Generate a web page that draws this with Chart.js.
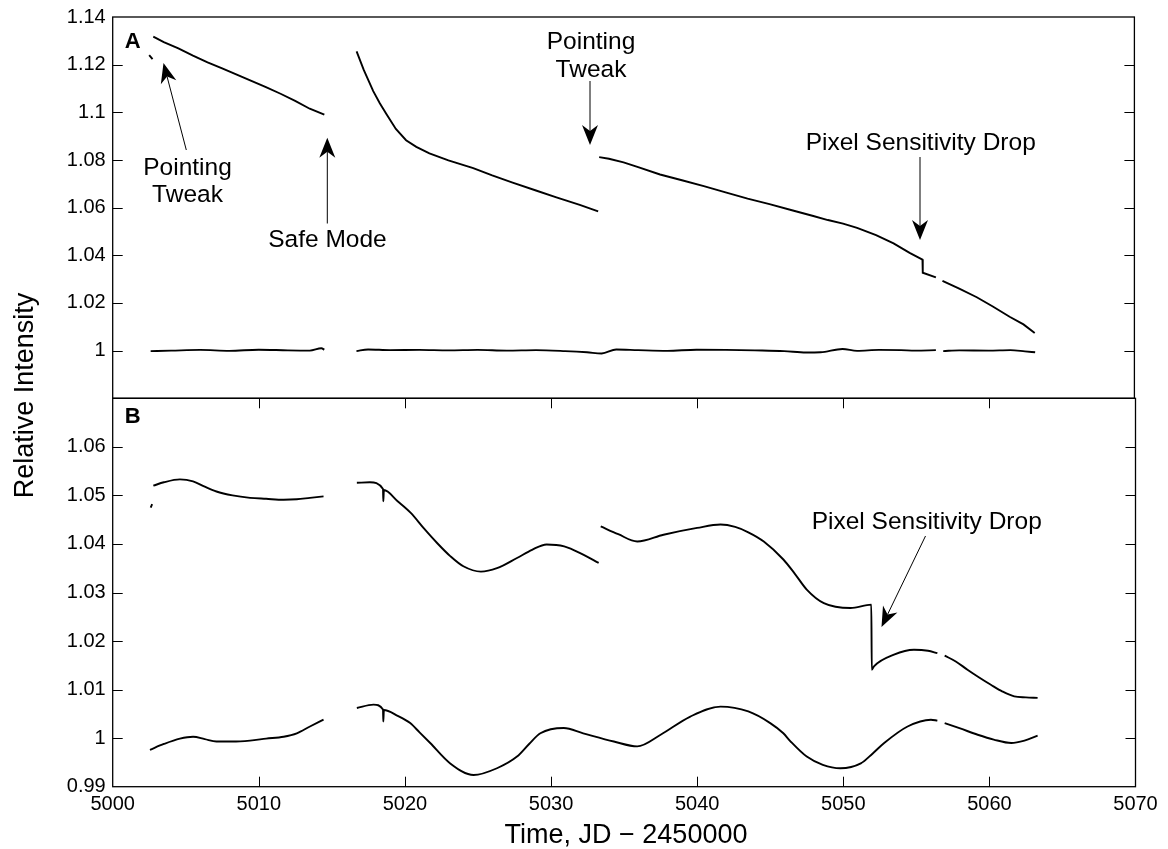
<!DOCTYPE html>
<html>
<head>
<meta charset="utf-8">
<script src="https://cdn.jsdelivr.net/npm/chart.js@4.4.1/dist/chart.umd.min.js"></script>
<style>
body { margin: 0; background: #fff; }
#wrap { position: relative; width: 1168px; height: 849px; }
#wrap canvas { position: absolute; left: 0; top: 0; }
</style>
</head>
<body>
<div id="wrap">
<canvas id="panelA" width="1168" height="849"></canvas>
<canvas id="panelB" width="1168" height="849"></canvas>
</div>
<script>
// tick values
var xTickValues = [5000, 5010, 5020, 5030, 5040, 5050, 5060, 5070];
var aTickValues = [1.0, 1.02, 1.04, 1.06, 1.08, 1.1, 1.12, 1.14];
var bTickValues = [0.99, 1.0, 1.01, 1.02, 1.03, 1.04, 1.05, 1.06];

// panel A, raw flux (null = data gap)
var aRawT = [5002.5, 5002.73, 5002.75,
  5002.78, 5003.5, 5004.5, 5005.5, 5006.5, 5007.5, 5008.5, 5009.5, 5010.5, 5011.5, 5012.5, 5013.5, 5014.5, 5015.6,
  5016.71, 5017.2, 5017.85, 5018.3, 5018.75, 5019.4, 5020.1, 5020.8, 5021.7, 5023, 5024.7, 5026, 5027.4, 5029, 5030.4, 5032, 5033.26, 5033.3,
  5033.33, 5034, 5035, 5036, 5037.5, 5039, 5040.5, 5042.05, 5043.5, 5045, 5046.6, 5048, 5049, 5050.04, 5051, 5052.3, 5053.5, 5054.6, 5055.48, 5055.5, 5056.4, 5056.6,
  5056.85, 5058, 5059.2, 5060.3, 5061.45, 5062.4, 5063.17];
var aRawV = [1.1240, 1.1223, null,
  1.1318, 1.1295, 1.1268, 1.1238, 1.1210, 1.1184, 1.1158, 1.1132, 1.1106, 1.1078, 1.1048, 1.1015, 1.0990, null,
  1.1256, 1.1178, 1.1089, 1.1038, 1.0993, 1.0930, 1.0883, 1.0855, 1.0828, 1.0798, 1.0766, 1.0735, 1.0705, 1.0672, 1.0643, 1.0612, 1.0584, null,
  1.0812, 1.0805, 1.0790, 1.0770, 1.0739, 1.0715, 1.0690, 1.0663, 1.0638, 1.0615, 1.0588, 1.0565, 1.0548, 1.0533, 1.0515, 1.0485, 1.0450, 1.0410, 1.0382, 1.0327, 1.0307, null,
  1.0293, 1.0260, 1.0224, 1.0185, 1.0142, 1.0110, 1.0074];

// panel A, detrended flux
var aFlatT = [5002.6, 5004, 5006, 5008, 5010, 5012, 5013.5, 5014.3, 5014.5, 5015.6,
  5016.7, 5017.5, 5019, 5021, 5023, 5025, 5027, 5029, 5031, 5032.5, 5033.5, 5034.5, 5036, 5038, 5040, 5042, 5044, 5046, 5047.5, 5048.5, 5050, 5051, 5052.5, 5054, 5055, 5056.4, 5056.6,
  5056.9, 5058, 5060, 5061.5, 5062.5, 5063.2];
var aFlatV = [0.9998, 1.0000, 1.0003, 0.9999, 1.0004, 1.0001, 1.0000, 1.0010, 1.0004, null,
  0.9998, 1.0005, 1.0002, 1.0003, 1.0001, 1.0003, 1.0000, 1.0002, 0.9998, 0.9993, 0.9988, 1.0005, 1.0002, 0.9999, 1.0004, 1.0003, 1.0001, 0.9998, 0.9992, 0.9993, 1.0007, 0.9999, 1.0003, 1.0002, 1.0000, 1.0002, null,
  0.9998, 1.0001, 1.0000, 1.0002, 0.9997, 0.9993];

// panel B, corrected flux
var bRawT = [5002.6, 5002.7, 5002.75,
  5002.78, 5003.5, 5004.6, 5005.5, 5006.3, 5007.1, 5008.2, 5009.4, 5010.5, 5011.7, 5012.6, 5013.5, 5014.43, 5015.6,
  5016.71, 5017.6, 5018.5, 5018.52, 5018.56, 5019.5, 5020.4, 5021.3, 5022.2, 5023.1, 5024.0, 5025.2, 5026.3, 5027.67, 5028.7, 5029.7, 5030.9, 5032.2, 5033.26, 5033.3,
  5033.4, 5034.6, 5035.9, 5037.7, 5040.0, 5041.6, 5042.6, 5043.5, 5044.56, 5045.9, 5046.7, 5047.5, 5048.67, 5050.5, 5051.92, 5051.95, 5052.1, 5053.47, 5054.84, 5055.8, 5056.44, 5056.7,
  5056.94, 5057.7, 5058.5, 5059.3, 5060.1, 5060.9, 5061.7, 5062.5, 5063.3];
var bRawV = [1.0475, 1.0482, null,
  1.0520, 1.0527, 1.0533, 1.0529, 1.0518, 1.0508, 1.0500, 1.0495, 1.0493, 1.0491, 1.0492, 1.0495, 1.0498, null,
  1.0526, 1.0527, 1.0513, 1.0488, 1.0511, 1.0488, 1.0464, 1.0432, 1.0402, 1.0375, 1.0354, 1.0343, 1.0350, 1.0371, 1.0388, 1.0399, 1.0395, 1.0378, 1.0361, null,
  1.0436, 1.0420, 1.0405, 1.0419, 1.0433, 1.0440, 1.0435, 1.0424, 1.0405, 1.0368, 1.0338, 1.0306, 1.0278, 1.0268, 1.0275, 1.0141, 1.0148, 1.0172, 1.0182, 1.0180, 1.0175, null,
  1.0170, 1.0158, 1.0141, 1.0125, 1.0110, 1.0096, 1.0086, 1.0084, 1.0083];

// panel B, detrended flux
var bFlatT = [5002.55, 5003.5, 5004.6, 5005.5, 5006.3, 5007.1, 5008.2, 5009.4, 5010.5, 5011.7, 5012.6, 5013.5, 5014.43, 5015.6,
  5016.71, 5017.85, 5018.5, 5018.52, 5018.56, 5019.5, 5020.36, 5021.0, 5021.73, 5023.1, 5024.7, 5026.3, 5027.67, 5028.5, 5029.27, 5030.87, 5032.2, 5034.3, 5035.9, 5037.5, 5039.5, 5041.6, 5043.5, 5045.0, 5045.9, 5046.4, 5047.5, 5048.6, 5049.8, 5051.2, 5052.0, 5052.8, 5054.4, 5056.0, 5056.44, 5056.7,
  5056.94, 5058.0, 5059.2, 5060.3, 5061.5, 5062.4, 5063.3];
var bFlatV = [0.9976, 0.9988, 0.9999, 1.0003, 0.9998, 0.9993, 0.9993, 0.9995, 0.9999, 1.0003, 1.0010, 1.0024, 1.0038, null,
  1.0062, 1.0069, 1.0059, 1.0034, 1.0058, 1.0046, 1.0031, 1.0012, 0.9990, 0.9948, 0.9924, 0.9938, 0.9962, 0.9988, 1.0010, 1.0021, 1.0010, 0.9993, 0.9983, 1.0007, 1.0044, 1.0065, 1.0055, 1.0031, 1.0010, 0.9993, 0.9962, 0.9945, 0.9938, 0.9948, 0.9968, 0.9990, 1.0024, 1.0038, 1.0036, null,
  1.0031, 1.0020, 1.0007, 0.9997, 0.9990, 0.9995, 1.0005];

var FONT = "'Liberation Sans', Arial, Helvetica, sans-serif";
Chart.defaults.font.family = FONT;
Chart.defaults.color = '#000';

function pts(t, v) {
  return t.map(function (x, i) { return { x: x, y: v[i] }; });
}

function fmt(v) {
  return String(Number(v.toFixed(2)));
}

function line(data, smooth) {
  var ds = {
    data: data,
    borderColor: '#000',
    borderWidth: 1.9,
    pointRadius: 0,
    spanGaps: false
  };
  if (smooth) ds.cubicInterpolationMode = 'monotone';
  else ds.tension = 0;
  return ds;
}

function arrow(ctx, x0, y0, x1, y1) {
  var dx = x1 - x0, dy = y1 - y0;
  var len = Math.sqrt(dx * dx + dy * dy);
  var ux = dx / len, uy = dy / len;
  var nx = -uy, ny = ux;
  var L = 20, W = 8, N = 14;
  ctx.beginPath();
  ctx.moveTo(x0, y0);
  ctx.lineTo(x1 - ux * N, y1 - uy * N);
  ctx.stroke();
  ctx.beginPath();
  ctx.moveTo(x1, y1);
  ctx.lineTo(x1 - ux * L + nx * W, y1 - uy * L + ny * W);
  ctx.lineTo(x1 - ux * N, y1 - uy * N);
  ctx.lineTo(x1 - ux * L - nx * W, y1 - uy * L - ny * W);
  ctx.closePath();
  ctx.fill();
}

// frame, inward ticks and annotations
var decor = {
  id: 'decor',
  afterDraw: function (chart, args, opts) {
    var ctx = chart.ctx, a = chart.chartArea;
    var xs = chart.scales.x, ys = chart.scales.y;
    ctx.save();
    ctx.strokeStyle = '#000';
    ctx.fillStyle = '#000';
    ctx.lineWidth = 1.3;
    ctx.strokeRect(a.left, a.top, a.right - a.left, a.bottom - a.top);
    ctx.lineWidth = 1;
    ctx.beginPath();
    ys.ticks.forEach(function (t) {
      var p = Math.round(ys.getPixelForValue(t.value)) + 0.5;
      if (p <= a.top + 1 || p >= a.bottom - 1) return;
      ctx.moveTo(a.left, p); ctx.lineTo(a.left + 10, p);
      ctx.moveTo(a.right, p); ctx.lineTo(a.right - 10, p);
    });
    if (opts.xTicks) {
      xs.ticks.forEach(function (t) {
        var p = Math.round(xs.getPixelForValue(t.value)) + 0.5;
        if (p <= a.left + 1 || p >= a.right - 1) return;
        ctx.moveTo(p, a.top); ctx.lineTo(p, a.top + 10);
        ctx.moveTo(p, a.bottom); ctx.lineTo(p, a.bottom - 10);
      });
    }
    ctx.stroke();

    ctx.font = 'bold 22px ' + FONT;
    ctx.textAlign = 'left';
    ctx.textBaseline = 'alphabetic';
    ctx.fillText(opts.label, a.left + 12, a.top + opts.labelDy);

    ctx.font = '24.5px ' + FONT;
    ctx.textAlign = 'center';
    (opts.notes || []).forEach(function (n) {
      n.lines.forEach(function (s, i) { ctx.fillText(s, n.x, n.y + i * 27.7); });
    });
    ctx.lineWidth = 1;
    (opts.arrows || []).forEach(function (r) { arrow(ctx, r[0], r[1], r[2], r[3]); });

    if (opts.titles) {
      ctx.font = '27px ' + FONT;
      ctx.textAlign = 'center';
      ctx.fillText('Time, JD \u2212 2450000', 626, 842.5);
      ctx.save();
      ctx.translate(33.3, 395.5);
      ctx.rotate(-Math.PI / 2);
      ctx.fillText('Relative Intensity', 0, 0);
      ctx.restore();
    }
    ctx.restore();
  }
};

function xScale(show) {
  return {
    type: 'linear',
    min: 5000, max: 5070,
    display: show,
    afterBuildTicks: function (s) { s.ticks = xTickValues.map(function (v) { return { value: v }; }); },
    afterFit: function (s) { s.height = show ? 62.3 : 0; },
    grid: { display: false, drawTicks: false },
    border: { display: false },
    ticks: { padding: 8, maxRotation: 0, font: { size: 20, lineHeight: 1 }, callback: function (v) { return String(v); } }
  };
}

function yScale(min, max, vals) {
  return {
    type: 'linear',
    min: min, max: max,
    afterBuildTicks: function (s) { s.ticks = vals.map(function (v) { return { value: v }; }); },
    afterFit: function (s) { s.width = 112.7; },
    grid: { display: false, drawTicks: false },
    border: { display: false },
    ticks: { padding: 7, font: { size: 20, lineHeight: 1 }, callback: function (v) { return fmt(v); } }
  };
}

var common = {
  responsive: false,
  animation: false,
  events: [],
  plugins: { legend: { display: false }, tooltip: { enabled: false } }
};

new Chart(document.getElementById('panelA').getContext('2d'), {
  type: 'line',
  data: { datasets: [line(pts(aRawT, aRawV), false), line(pts(aFlatT, aFlatV), true)] },
  options: Object.assign({}, common, {
    layout: { padding: { left: 0, top: 11, right: 33.6, bottom: 450.7 } },
    scales: { x: xScale(false), y: yScale(0.98, 1.14, aTickValues) },
    plugins: Object.assign({}, common.plugins, {
      decor: {
        label: 'A', labelDy: 31, xTicks: false,
        notes: [
          { x: 187.5, y: 174.5, lines: ['Pointing', 'Tweak'] },
          { x: 327.5, y: 246.5, lines: ['Safe Mode'] },
          { x: 591, y: 48.8, lines: ['Pointing', 'Tweak'] },
          { x: 920.7, y: 149.9, lines: ['Pixel Sensitivity Drop'] }
        ],
        arrows: [
          [186.3, 150, 163.5, 63],
          [327.3, 223.5, 327.3, 137.7],
          [590, 81, 590, 145],
          [920, 157, 920, 240]
        ]
      }
    })
  }),
  plugins: [decor]
});

new Chart(document.getElementById('panelB').getContext('2d'), {
  type: 'line',
  data: { datasets: [line(pts(bRawT, bRawV), true), line(pts(bFlatT, bFlatV), true)] },
  options: Object.assign({}, common, {
    layout: { padding: { left: 0, top: 398.3, right: 32.5, bottom: 0 } },
    scales: { x: xScale(true), y: yScale(0.99, 1.07, bTickValues) },
    plugins: Object.assign({}, common.plugins, {
      decor: {
        label: 'B', labelDy: 25, xTicks: true, titles: true,
        notes: [
          { x: 926.7, y: 528.9, lines: ['Pixel Sensitivity Drop'] }
        ],
        arrows: [
          [925.5, 536, 881.5, 627]
        ]
      }
    })
  }),
  plugins: [decor]
});
</script>
</body>
</html>
